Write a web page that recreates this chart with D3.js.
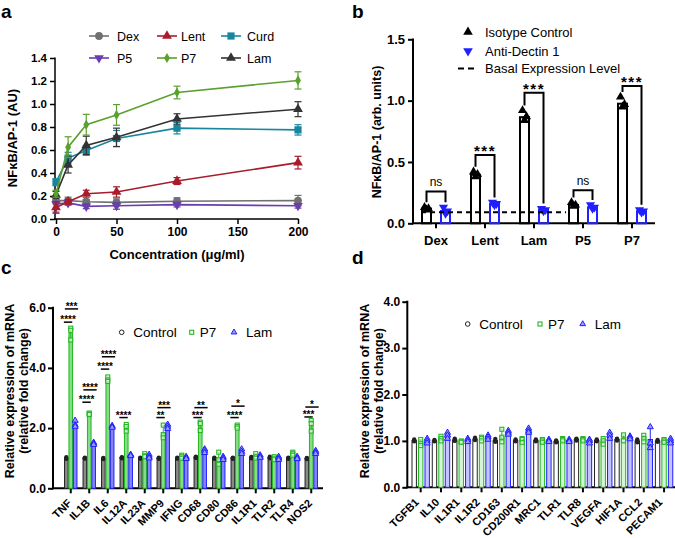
<!DOCTYPE html>
<html><head><meta charset="utf-8">
<script src="https://cdn.jsdelivr.net/npm/d3@7"></script>
<style>
body{margin:0;background:#fff}
svg{display:block}
text{font-family:"Liberation Sans",Arial,Helvetica,sans-serif}
</style>
</head><body>
<svg id="chart" width="675" height="538"></svg>
<script>
// ---------------- Panel a data ----------------
const concentrations = [0, 10, 25, 50, 100, 200];
const aXTicks = [0, 50, 100, 150, 200];
const aYTicks = [0, 0.2, 0.4, 0.6, 0.8, 1.0, 1.2, 1.4];
const dexVals  = [0.16, 0.16, 0.15, 0.145, 0.155, 0.16];
const dexErr   = [0.03, 0.03, 0.02, 0.03, 0.03, 0.045];
const lentVals = [0.10, 0.15, 0.22, 0.235, 0.33, 0.49];
const lentErr  = [0.05, 0.02, 0.03, 0.045, 0.03, 0.055];
const curdVals = [0.32, 0.53, 0.595, 0.70, 0.79, 0.775];
const curdErr  = [0.03, 0.05, 0.04, 0.07, 0.05, 0.045];
const p5Vals   = [0.13, 0.14, 0.11, 0.115, 0.125, 0.115];
const p5Err    = [0.07, 0.02, 0.02, 0.03, 0.02, 0.02];
const p7Vals   = [0.22, 0.625, 0.82, 0.905, 1.10, 1.205];
const p7Err    = [0.03, 0.09, 0.09, 0.09, 0.055, 0.075];
const lamVals  = [0.21, 0.47, 0.64, 0.71, 0.87, 0.955];
const lamErr   = [0.03, 0.07, 0.08, 0.08, 0.045, 0.065];

// ---------------- Panel b data ----------------
const bCats = ["Dex", "Lent", "Lam", "P5", "P7"];
const bYTicks = [0, 0.5, 1.0, 1.5];
const isoMeans = [0.12, 0.395, 0.865, 0.15, 0.975];
const isoReps  = [[0.13,0.12,0.11],[0.42,0.40,0.38],[0.92,0.87,0.84],[0.17,0.15,0.14],[1.03,0.97,0.95]];
const antiMeans = [0.10, 0.158, 0.112, 0.13, 0.098];
const antiReps  = [[0.13,0.10,0.08],[0.17,0.16,0.15],[0.12,0.11,0.10],[0.15,0.13,0.12],[0.11,0.10,0.09]];
const basalLevel = 0.09;
const bSig = ["ns", "***", "***", "ns", "***"];
const bBracket = [0.26, 0.557, 1.065, 0.27, 1.12];

// ---------------- Panel c data ----------------
const cGenes = ["TNF","IL1B","IL6","IL12A","IL23A","MMP9","IFNG","CD68","CD80","CD86","IL1R1","TLR2","TLR4","NOS2"];
const cYTicks = [0, 2, 4, 6];
const cCtrlMean = [1.0,1.0,0.99,1.02,1.0,1.0,1.0,1.03,1.0,1.0,1.02,1.02,1.0,0.99];
const cCtrlReps = [[1.03,1.0,0.98],[1.02,1.0,0.99],[1.01,0.99,0.97],[1.03,1.02,1.0],[1.02,1.0,0.99],[1.02,1.0,0.98],[1.02,1.0,0.99],[1.05,1.03,1.01],[1.02,1.0,0.98],[1.02,1.0,0.98],[1.04,1.02,1.0],[1.05,1.02,1.0],[1.02,1.0,0.98],[1.01,0.99,0.97]];
const cP7Mean = [5.17,2.47,3.62,2.02,1.09,1.85,1.05,2.09,0.98,2.05,1.07,1.0,1.15,2.1];
const cP7Reps = [[5.32,5.25,4.93],[2.5,2.47,2.45],[3.7,3.6,3.55],[2.12,2.05,1.9],[1.15,1.08,1.05],[2.1,1.78,1.68],[1.1,1.05,1.0],[2.2,2.15,1.92],[1.2,0.95,0.8],[2.1,2.05,2.0],[1.15,1.05,1.0],[1.05,1.0,0.95],[1.2,1.15,1.1],[2.25,2.15,1.9]];
const cLamMean = [2.13,1.48,2.05,1.1,1.06,2.05,1.01,1.24,1.0,1.22,1.06,1.0,1.01,1.2];
const cLamReps = [[2.25,2.1,2.05],[1.52,1.48,1.45],[2.08,2.05,2.02],[1.12,1.1,1.08],[1.12,1.05,1.0],[2.12,2.05,1.98],[1.05,1.0,0.98],[1.3,1.25,1.18],[1.05,1.0,0.95],[1.3,1.22,1.15],[1.1,1.05,1.02],[1.05,1.0,0.95],[1.05,1.0,0.98],[1.25,1.2,1.15]];
const cSigP7  = ["****","****","****","****","","**","","***","","****","","","","***"];
const cSigP7Y = [5.52,2.86,3.96,2.35,null,2.35,null,2.35,null,2.35,null,null,null,2.37];
const cSigLam  = ["***","****","****","","","***","","**","","*","","","","*"];
const cSigLamY = [5.96,3.27,4.37,null,null,2.68,null,2.68,null,2.73,null,null,null,2.70];

// ---------------- Panel d data ----------------
const dGenes = ["TGFB1","IL10","IL1R1","IL1R2","CD163","CD200R1","MRC1","TLR1","TLR8","VEGFA","HIF1A","CCL2","PECAM1"];
const dYTicks = [0, 1, 2, 3, 4];
const dCtrlMean = [1.01,1.0,1.02,1.04,1.01,1.01,1.01,0.99,1.03,1.01,1.03,1.0,1.0];
const dCtrlReps = [[1.03,1.0,0.99],[1.02,1.0,0.99],[1.05,1.02,1.0],[1.07,1.04,1.02],[1.04,1.0,0.98],[1.03,1.01,0.99],[1.03,1.01,0.99],[1.01,0.99,0.97],[1.05,1.03,1.01],[1.03,1.01,0.99],[1.05,1.03,1.01],[1.03,1.0,0.97],[1.02,1.0,0.98]];
const dP7Mean = [0.96,1.05,0.98,1.04,1.1,1.02,1.0,1.03,1.03,0.99,1.05,1.05,1.0];
const dP7Reps = [[1.03,0.95,0.9],[1.1,1.05,1.0],[1.0,0.98,0.97],[1.08,1.05,1.0],[1.25,1.08,0.98],[1.05,1.03,0.97],[1.03,1.0,0.97],[1.05,1.03,1.0],[1.05,1.03,1.0],[1.05,1.0,0.93],[1.13,1.02,1.0],[1.12,1.05,0.98],[1.03,1.0,0.97]];
const dLamMean = [1.0,1.12,1.02,1.08,1.18,1.22,1.0,1.0,0.99,1.12,1.07,1.03,1.0];
const dLamReps = [[1.05,1.0,0.95],[1.18,1.12,1.05],[1.05,1.02,0.98],[1.12,1.08,1.03],[1.22,1.18,1.14],[1.27,1.22,1.18],[1.03,1.0,0.98],[1.03,1.0,0.98],[1.03,1.0,0.95],[1.18,1.12,1.05],[1.1,1.07,1.04],[1.3,0.95,0.85],[1.05,1.0,0.95]];

// ---------------- Drawing ----------------
const svg = d3.select("#chart");

function styleAxis(g, fs, sw) {
  g.select(".domain").remove();
  g.selectAll(".tick line").attr("stroke", "#000").attr("stroke-width", sw);
  g.selectAll(".tick text").attr("fill", "#000").attr("font-size", fs).attr("font-weight", "bold");
}
function hline(x1, x2, y, sw) {
  svg.append("line").attr("x1", x1).attr("x2", x2).attr("y1", y).attr("y2", y).attr("stroke", "#000").attr("stroke-width", sw);
}
function vline(x, y1, y2, sw) {
  svg.append("line").attr("x1", x).attr("x2", x).attr("y1", y1).attr("y2", y2).attr("stroke", "#000").attr("stroke-width", sw);
}
function panelLabel(t, x, y) {
  svg.append("text").attr("x", x).attr("y", y).text(t).attr("font-size", 19).attr("font-weight", "bold");
}
panelLabel("a", 1, 17.5);
panelLabel("b", 352, 17.5);
panelLabel("c", 1, 274);
panelLabel("d", 352, 264);

// ===== Panel a =====
(function () {
  const x = d3.scaleLinear().domain([0, 200]).range([56, 298]);
  const y = d3.scaleLinear().domain([0, 1.4]).range([219, 58]);
  const gy = svg.append("g").attr("transform", "translate(55,0)")
    .call(d3.axisLeft(y).tickValues(aYTicks).tickFormat(d3.format(".1f")).tickSize(5).tickPadding(3));
  styleAxis(gy, 11.5, 1.5);
  const gx = svg.append("g").attr("transform", "translate(0,219)")
    .call(d3.axisBottom(x).tickValues(aXTicks).tickSize(5).tickPadding(3));
  styleAxis(gx, 12, 1.5);
  vline(55, 219.75, 57.5, 1.5);
  hline(54.25, 298.5, 219, 1.5);

  svg.append("text").attr("transform", "translate(17,138) rotate(-90)").attr("text-anchor", "middle")
    .attr("font-size", 13).attr("font-weight", "bold").text("NFκB/AP-1 (AU)");
  svg.append("text").attr("x", 177).attr("y", 259).attr("text-anchor", "middle")
    .attr("font-size", 13).attr("font-weight", "bold").text("Concentration (μg/ml)");

  const series = [
    { name: "Dex", vals: dexVals, err: dexErr, color: "#707070", sym: d3.symbolCircle, size: 48, rot: 0 },
    { name: "P5", vals: p5Vals, err: p5Err, color: "#6a3db0", sym: d3.symbolTriangle, size: 40, rot: 180 },
    { name: "Lent", vals: lentVals, err: lentErr, color: "#a81c2c", sym: d3.symbolTriangle, size: 42, rot: 0 },
    { name: "Curd", vals: curdVals, err: curdErr, color: "#17869e", sym: d3.symbolSquare, size: 52, rot: 0 },
    { name: "Lam", vals: lamVals, err: lamErr, color: "#333333", sym: d3.symbolTriangle, size: 42, rot: 0 },
    { name: "P7", vals: p7Vals, err: p7Err, color: "#5aa02c", sym: d3.symbolDiamond, size: 30, rot: 0 }
  ];
  series.forEach(s => {
    const g = svg.append("g");
    const line = d3.line().x((d, i) => x(concentrations[i])).y(d => y(d));
    g.append("path").attr("d", line(s.vals)).attr("fill", "none").attr("stroke", s.color).attr("stroke-width", 1.6);
    s.vals.forEach((v, i) => {
      const cx = x(concentrations[i]);
      const y1 = y(v + s.err[i]), y2 = y(v - s.err[i]);
      g.append("line").attr("x1", cx).attr("x2", cx).attr("y1", y1).attr("y2", y2).attr("stroke", s.color).attr("stroke-width", 1.2);
      [y1, y2].forEach(yy => g.append("line").attr("x1", cx - 3.5).attr("x2", cx + 3.5).attr("y1", yy).attr("y2", yy).attr("stroke", s.color).attr("stroke-width", 1.2));
      g.append("path").attr("d", d3.symbol().type(s.sym).size(s.size)())
        .attr("transform", `translate(${cx},${y(v)}) rotate(${s.rot})`).attr("fill", s.color);
    });
  });
  // legend
  const leg = [
    { name: "Dex", s: series[0], lx: 89, ly: 36, tx: 117 }, { name: "Lent", s: series[2], lx: 157, ly: 36, tx: 181 }, { name: "Curd", s: series[3], lx: 221, ly: 36, tx: 247 },
    { name: "P5", s: series[1], lx: 89, ly: 58, tx: 117 }, { name: "P7", s: series[5], lx: 157, ly: 58, tx: 181 }, { name: "Lam", s: series[4], lx: 221, ly: 58, tx: 247 }
  ];
  leg.forEach(l => {
    svg.append("line").attr("x1", l.lx).attr("x2", l.lx + 20).attr("y1", l.ly).attr("y2", l.ly).attr("stroke", l.s.color).attr("stroke-width", 1.6);
    svg.append("path").attr("d", d3.symbol().type(l.s.sym).size(l.s.size)())
      .attr("transform", `translate(${l.lx + 10},${l.ly}) rotate(${l.s.rot})`).attr("fill", l.s.color);
    svg.append("text").attr("x", l.tx).attr("y", l.ly + 4.5).attr("font-size", 12.5).text(l.name);
  });
})();

// ===== Panel b =====
(function () {
  const x = d3.scaleBand().domain(bCats).range([411.5, 656.5]);
  const y = d3.scaleLinear().domain([0, 1.5]).range([223.3, 39.3]);
  const gy = svg.append("g").attr("transform", "translate(413,0)")
    .call(d3.axisLeft(y).tickValues(bYTicks).tickFormat(d3.format(".1f")).tickSize(5).tickPadding(3));
  styleAxis(gy, 13, 2);
  const gx = svg.append("g").attr("transform", "translate(0,223.3)")
    .call(d3.axisBottom(x).tickSize(5).tickPadding(7));
  styleAxis(gx, 13, 2);
  vline(413, 224.3, 38.5, 2);
  hline(412, 655, 223.3, 2);

  svg.append("text").attr("transform", "translate(381,132) rotate(-90)").attr("text-anchor", "middle")
    .attr("font-size", 12.5).attr("font-weight", "bold").text("NFκB/AP-1 (arb. units)");

  const off = 9.5, bw = 9;
  const blue = "#1f1fff";
  bCats.forEach((c, i) => {
    const cx = x(c) + x.bandwidth() / 2;
    const xi = cx - off, xa = cx + off;
    svg.append("rect").attr("x", xi - bw / 2).attr("width", bw).attr("y", y(isoMeans[i])).attr("height", y(0) - y(isoMeans[i]))
      .attr("fill", "none").attr("stroke", "#000").attr("stroke-width", 2);
    svg.append("rect").attr("x", xa - bw / 2).attr("width", bw).attr("y", y(antiMeans[i])).attr("height", y(0) - y(antiMeans[i]))
      .attr("fill", "none").attr("stroke", blue).attr("stroke-width", 2);
    const jit = [-2, 2, 0];
    isoReps[i].forEach((v, k) => svg.append("path").attr("d", d3.symbol().type(d3.symbolTriangle).size(36)())
      .attr("transform", `translate(${xi + jit[k]},${y(v)})`).attr("fill", "#000"));
    antiReps[i].forEach((v, k) => svg.append("path").attr("d", d3.symbol().type(d3.symbolTriangle).size(36)())
      .attr("transform", `translate(${xa + jit[k]},${y(v)}) rotate(180)`).attr("fill", blue));
    // bracket
    const by = y(bBracket[i]);
    const lb = y(d3.max(isoReps[i])) - 5, rb = y(d3.max(antiReps[i])) - 5;
    svg.append("path").attr("d", `M${xi},${lb}V${by}H${xa}V${rb}`).attr("fill", "none").attr("stroke", "#000").attr("stroke-width", 2);
    if (bSig[i] === "ns") {
      svg.append("text").attr("x", (xi + xa) / 2).attr("y", by - 5).attr("text-anchor", "middle").attr("font-size", 12).text("ns");
    } else {
      svg.append("text").attr("x", (xi + xa) / 2).attr("y", by + 1).attr("text-anchor", "middle").attr("font-size", 15)
        .attr("font-weight", "bold").attr("letter-spacing", 1.5).text(bSig[i]);
    }
  });
  // basal
  svg.append("line").attr("x1", 421).attr("x2", 566).attr("y1", y(basalLevel)).attr("y2", y(basalLevel))
    .attr("stroke", "#000").attr("stroke-width", 2).attr("stroke-dasharray", "5,4");
  // legend
  svg.append("path").attr("d", d3.symbol().type(d3.symbolTriangle).size(40)()).attr("transform", "translate(468,32)").attr("fill", "#000");
  svg.append("text").attr("x", 485).attr("y", 36.5).attr("font-size", 13).text("Isotype Control");
  svg.append("path").attr("d", d3.symbol().type(d3.symbolTriangle).size(40)()).attr("transform", "translate(468,51) rotate(180)").attr("fill", blue);
  svg.append("text").attr("x", 485).attr("y", 55.5).attr("font-size", 13).text("Anti-Dectin 1");
  svg.append("line").attr("x1", 458).attr("x2", 478).attr("y1", 68.5).attr("y2", 68.5).attr("stroke", "#000").attr("stroke-width", 2).attr("stroke-dasharray", "6,4");
  svg.append("text").attr("x", 485).attr("y", 73).attr("font-size", 13).text("Basal Expression Level");
})();

// ===== Panels c & d (gene expression) =====
function genePanel(opt) {
  const x = d3.scaleBand().domain(opt.genes).range(opt.xr);
  const y = d3.scaleLinear().domain([0, opt.ymax]).range(opt.yr);
  const gy = svg.append("g").attr("transform", `translate(${opt.ax},0)`)
    .call(d3.axisLeft(y).tickValues(opt.yticks).tickFormat(d3.format(".1f")).tickSize(5).tickPadding(2));
  styleAxis(gy, 12, 2);
  vline(opt.ax, opt.yr[0] + 1, opt.yr[1] - 1, 2);
  hline(opt.ax - 1, opt.axEnd, opt.yr[0], 2);
  const gx = svg.append("g").attr("transform", `translate(0,${opt.yr[0]})`)
    .call(d3.axisBottom(x).tickSize(5).tickFormat(""));
  styleAxis(gx, 11, 2);
  opt.genes.forEach(g => {
    svg.append("text").attr("transform", `translate(${x(g) + x.bandwidth() / 2 + opt.lblDx},${opt.yr[0] + 15.5}) rotate(-45)`)
      .attr("text-anchor", "end").attr("font-size", 11).attr("font-weight", "bold").text(g);
  });
  // y title
  svg.append("text").attr("transform", `translate(${opt.t1x},${opt.ty}) rotate(-90)`).attr("text-anchor", "middle")
    .attr("font-size", 12.5).attr("font-weight", "bold").text("Relative expression of mRNA");
  svg.append("text").attr("transform", `translate(${opt.t2x},${opt.ty}) rotate(-90)`).attr("text-anchor", "middle")
    .attr("font-size", 12.5).attr("font-weight", "bold").text("(relative fold change)");

  const groups = [
    { mean: opt.ctrlMean, reps: opt.ctrlReps, fill: opt.ctrlFill, stroke: "#222", off: -opt.off, sym: "circle" },
    { mean: opt.p7Mean, reps: opt.p7Reps, fill: opt.p7Fill, stroke: "#22b822", off: 0, sym: "square" },
    { mean: opt.lamMean, reps: opt.lamReps, fill: opt.lamFill, stroke: "#2020ff", off: opt.off, sym: "tri" }
  ];
  opt.genes.forEach((g, i) => {
    const cx = x(g) + x.bandwidth() / 2;
    groups.forEach(gr => {
      const bx = cx + gr.off;
      const m = gr.mean[i];
      svg.append("rect").attr("x", bx - opt.bw / 2).attr("width", opt.bw).attr("y", y(m)).attr("height", y(0) - y(m))
        .attr("fill", gr.fill).attr("stroke", gr.stroke).attr("stroke-width", 1);
      const hi = d3.max(gr.reps[i]), lo = d3.min(gr.reps[i]);
      svg.append("line").attr("x1", bx).attr("x2", bx).attr("y1", y(hi)).attr("y2", y(lo)).attr("stroke", gr.stroke).attr("stroke-width", 1);
      svg.append("line").attr("x1", bx - 1.5).attr("x2", bx + 1.5).attr("y1", y(hi)).attr("y2", y(hi)).attr("stroke", gr.stroke).attr("stroke-width", 1);
      gr.reps[i].forEach(v => {
        const py = y(v);
        if (gr.sym === "circle") {
          svg.append("circle").attr("cx", bx).attr("cy", py).attr("r", 2.2).attr("fill", "#222");
        } else if (gr.sym === "square") {
          svg.append("rect").attr("x", bx - 2).attr("y", py - 2).attr("width", 4).attr("height", 4)
            .attr("fill", "#fff").attr("fill-opacity", 0.6).attr("stroke", gr.stroke).attr("stroke-width", 1.1);
        } else {
          svg.append("path").attr("d", d3.symbol().type(d3.symbolTriangle).size(16)()).attr("transform", `translate(${bx},${py})`)
            .attr("fill", "#9a9aff").attr("stroke", gr.stroke).attr("stroke-width", 1);
        }
      });
    });
    // significance
    if (opt.sigP7) {
      const ctrlX = cx - opt.off, p7X = cx, lamX = cx + opt.off;
      if (opt.sigP7[i]) {
        const ly = y(opt.sigP7Y[i]);
        const x1 = ctrlX - 2.5, x2 = p7X + 1.5;
        svg.append("line").attr("x1", x1).attr("x2", x2).attr("y1", ly).attr("y2", ly).attr("stroke", "#000").attr("stroke-width", 1.5);
        svg.append("text").attr("x", (x1 + x2) / 2).attr("y", ly + 1).attr("text-anchor", "middle").attr("font-size", 10).attr("font-weight", "bold").text(opt.sigP7[i]);
      }
      if (opt.sigLam[i]) {
        const ly = y(opt.sigLamY[i]);
        const x1 = ctrlX - 1.5, x2 = lamX + 3;
        svg.append("line").attr("x1", x1).attr("x2", x2).attr("y1", ly).attr("y2", ly).attr("stroke", "#000").attr("stroke-width", 1.5);
        svg.append("text").attr("x", (x1 + x2) / 2).attr("y", ly + 1).attr("text-anchor", "middle").attr("font-size", 10).attr("font-weight", "bold").text(opt.sigLam[i]);
      }
    }
  });
  // legend
  const L = opt.leg;
  svg.append("circle").attr("cx", L[0]).attr("cy", L[3]).attr("r", 2.3).attr("fill", "none").attr("stroke", "#222").attr("stroke-width", 1);
  svg.append("text").attr("x", L[0] + 11.5).attr("y", L[3] + 5).attr("font-size", 13.5).text("Control");
  svg.append("rect").attr("x", L[1] - 2).attr("y", L[3] - 2).attr("width", 4).attr("height", 4).attr("fill", "none").attr("stroke", "#22b822").attr("stroke-width", 1.1);
  svg.append("text").attr("x", L[1] + 8).attr("y", L[3] + 5).attr("font-size", 13.5).text("P7");
  svg.append("path").attr("d", d3.symbol().type(d3.symbolTriangle).size(14)()).attr("transform", `translate(${L[2]},${L[3]})`)
    .attr("fill", "#9a9aff").attr("stroke", "#2020ff").attr("stroke-width", 1);
  svg.append("text").attr("x", L[2] + 12).attr("y", L[3] + 5).attr("font-size", 13.5).text("Lam");
}

genePanel({
  genes: cGenes, xr: [61.5, 320.5], ymax: 6, yr: [488.3, 307.7], yticks: cYTicks, ax: 53, axEnd: 323,
  ctrlMean: cCtrlMean, ctrlReps: cCtrlReps, p7Mean: cP7Mean, p7Reps: cP7Reps, lamMean: cLamMean, lamReps: cLamReps,
  ctrlFill: "#8a8a8a", p7Fill: "#86dc86", lamFill: "#8484ff", off: 4.4, bw: 3.6, lblDx: 1.5,
  sigP7: cSigP7, sigP7Y: cSigP7Y, sigLam: cSigLam, sigLamY: cSigLamY,
  t1x: 14, t2x: 28, ty: 391, leg: [121.7, 191.7, 234, 332.3]
});

genePanel({
  genes: dGenes, xr: [410.56, 674.2], ymax: 4, yr: [487.3, 301.7], yticks: dYTicks, ax: 407.3, axEnd: 675,
  ctrlMean: dCtrlMean, ctrlReps: dCtrlReps, p7Mean: dP7Mean, p7Reps: dP7Reps, lamMean: dLamMean, lamReps: dLamReps,
  ctrlFill: "#ffffff", p7Fill: "#d6f5d6", lamFill: "#c4c4ff", off: 6.5, bw: 4.4, lblDx: -1,
  sigP7: null, t1x: 369, t2x: 383, ty: 391, leg: [467.7, 540, 582.7, 324]
});
</script>
</body></html>
